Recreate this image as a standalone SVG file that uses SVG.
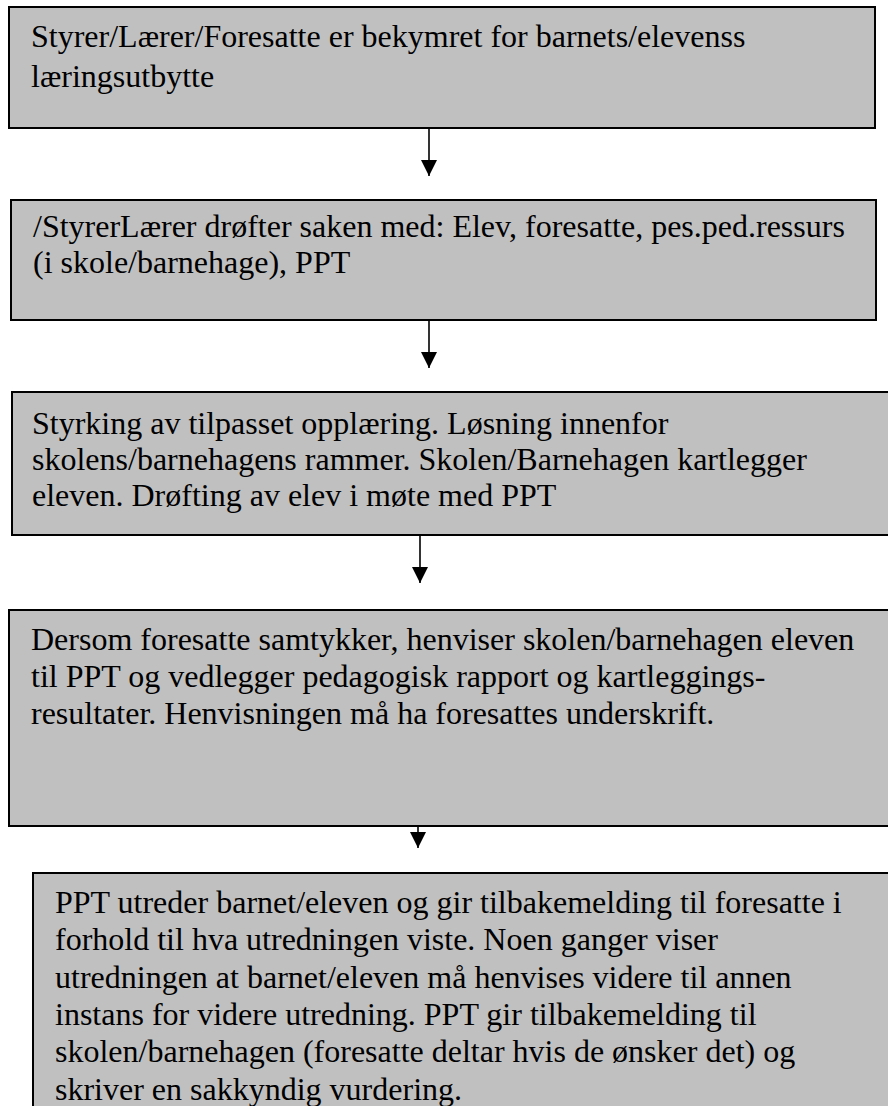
<svg xmlns="http://www.w3.org/2000/svg" width="888" height="1106" viewBox="0 0 888 1106">
<style>
.box{fill:#c0c0c0;stroke:#000;stroke-width:2}
.t{font-family:"Liberation Serif","Times New Roman",Times,serif;font-size:32px;fill:#000}
.c{stroke:#000;stroke-width:1.6;fill:none}
</style>
<defs>
<marker id="ah" markerUnits="userSpaceOnUse" markerWidth="16" markerHeight="16" refX="16" refY="8" viewBox="0 0 16 16" orient="auto">
<path d="M0,0 L16,8 L0,16 Z" fill="#000"/>
</marker>
</defs>
<rect width="888" height="1106" fill="#fff"/>
<g id="n1">
<rect class="box" x="9" y="7" width="866" height="121"/>
<text class="t" x="31" y="47">Styrer/Lærer/Foresatte er bekymret for barnets/elevenss</text>
<text class="t" x="31" y="87">læringsutbytte</text>
</g>
<g id="n2">
<rect class="box" x="11" y="200" width="865" height="120"/>
<text class="t" x="33" y="237">/StyrerLærer drøfter saken med: Elev, foresatte, pes.ped.ressurs</text>
<text class="t" x="33" y="273">(i skole/barnehage), PPT</text>
</g>
<g id="n3">
<rect class="box" x="12" y="392" width="880" height="143"/>
<text class="t" x="32" y="434">Styrking av tilpasset opplæring. Løsning innenfor</text>
<text class="t" x="32" y="470">skolens/barnehagens rammer. Skolen/Barnehagen kartlegger</text>
<text class="t" x="32" y="506">eleven. Drøfting av elev i møte med PPT</text>
</g>
<g id="n4">
<rect class="box" x="9" y="610" width="886" height="216"/>
<text class="t" x="31" y="650">Dersom foresatte samtykker, henviser skolen/barnehagen eleven</text>
<text class="t" x="31" y="687">til PPT og vedlegger pedagogisk rapport og kartleggings-</text>
<text class="t" x="31" y="724">resultater. Henvisningen må ha foresattes underskrift.</text>
</g>
<g id="n5">
<rect class="box" x="33" y="873" width="870" height="250"/>
<text class="t" x="55" y="913">PPT utreder barnet/eleven og gir tilbakemelding til foresatte i</text>
<text class="t" x="55" y="950">forhold til hva utredningen viste. Noen ganger viser</text>
<text class="t" x="55" y="988">utredningen at barnet/eleven må henvises videre til annen</text>
<text class="t" x="55" y="1025">instans for videre utredning. PPT gir tilbakemelding til</text>
<text class="t" x="55" y="1062">skolen/barnehagen (foresatte deltar hvis de ønsker det) og</text>
<text class="t" x="55" y="1100">skriver en sakkyndig vurdering.</text>
</g>
<g id="connectors">
<path class="c" d="M429,129 V176" marker-end="url(#ah)"/>
<path class="c" d="M429,321 V368" marker-end="url(#ah)"/>
<path class="c" d="M420,536 V583" marker-end="url(#ah)"/>
<path class="c" d="M418,827 V848" marker-end="url(#ah)"/>
</g>
</svg>
